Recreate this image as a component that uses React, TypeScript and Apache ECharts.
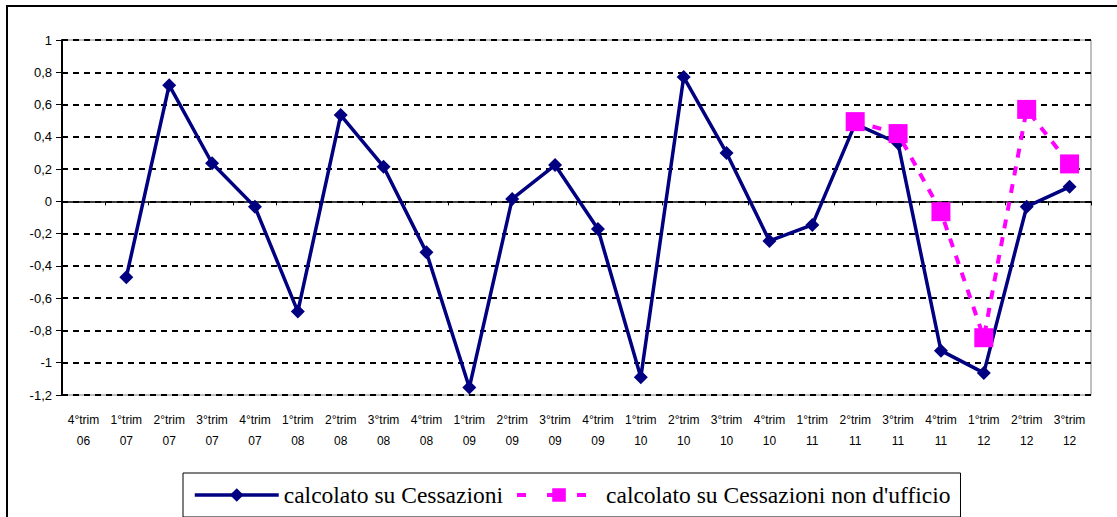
import React, { useEffect, useRef } from "react";
import * as echarts from "echarts";

const categories = [
  "4°trim\n06", "1°trim\n07", "2°trim\n07", "3°trim\n07", "4°trim\n07",
  "1°trim\n08", "2°trim\n08", "3°trim\n08", "4°trim\n08",
  "1°trim\n09", "2°trim\n09", "3°trim\n09", "4°trim\n09",
  "1°trim\n10", "2°trim\n10", "3°trim\n10", "4°trim\n10",
  "1°trim\n11", "2°trim\n11", "3°trim\n11", "4°trim\n11",
  "1°trim\n12", "2°trim\n12", "3°trim\n12",
];

const seriesCessazioni = [
  null, -0.47, 0.72, 0.236, -0.034, -0.683, 0.535, 0.215, -0.316,
  -1.154, 0.015, 0.225, -0.171, -1.09, 0.77, 0.3, -0.245,
  -0.146, 0.48, 0.36, -0.925, -1.063, -0.033, 0.09,
];

const seriesNonUfficio = [
  null, null, null, null, null, null, null, null, null,
  null, null, null, null, null, null, null, null,
  null, 0.494, 0.42, -0.064, -0.845, 0.57, 0.232,
];

const seriesNames = ["calcolato su Cessazioni", "calcolato su Cessazioni non d'ufficio"];

export default function App() {
  const ref = useRef<HTMLDivElement>(null);
  useEffect(() => {
    if (!ref.current) return;
    const chart = echarts.init(ref.current, null, { renderer: "svg" });
    const fmt = (v: number) => String(Math.round(v * 10) / 10).replace(".", ",");
    chart.setOption({
      animation: false,
      backgroundColor: "#ffffff",
      grid: {
        left: 62,
        top: 40,
        width: 1029,
        height: 355,
        show: true,
        borderColor: "#808080",
        borderWidth: 1,
        backgroundColor: "transparent",
      },
      graphic: [
        {
          type: "rect",
          shape: { x: 7, y: 6, width: 1300, height: 700 },
          style: { fill: "none", stroke: "#000", lineWidth: 2 },
          z: 100,
          silent: true,
        },
      ],
      legend: {
        left: 183,
        top: 473,
        padding: [10, 10, 10, 10],
        borderColor: "#000",
        borderWidth: 1,
        backgroundColor: "#fff",
        itemWidth: 84,
        itemHeight: 17,
        itemGap: 12,
        textStyle: {
          fontFamily: "Liberation Serif",
          fontSize: 23.5,
          lineHeight: 24,
          color: "#000",
        },
        data: [
          { name: seriesNames[0], lineStyle: { width: 3.5, color: "#000080" } },
          { name: seriesNames[1], lineStyle: { width: 4, color: "#ff00ff", type: [9, 21] } },
        ],
      },
      xAxis: [
        {
          type: "category",
          data: categories,
          position: "bottom",
          boundaryGap: true,
          axisLine: { show: false, onZero: false },
          axisTick: { show: false },
          splitLine: { show: false },
          axisLabel: {
            interval: 0,
            margin: 14,
            fontFamily: "Liberation Sans",
            fontSize: 12,
            lineHeight: 21,
            color: "#000",
          },
        },
        {
          type: "category",
          data: categories,
          position: "top",
          boundaryGap: true,
          axisLine: { show: true, onZero: true, lineStyle: { color: "#000", width: 1.5 } },
          axisTick: { show: true, inside: true, length: 4, interval: 0, lineStyle: { color: "#000", width: 1 } },
          axisLabel: { show: false },
          splitLine: { show: false },
        },
      ],
      yAxis: {
        type: "value",
        min: -1.2,
        max: 1,
        interval: 0.2,
        axisLine: { show: true, onZero: false, lineStyle: { color: "#000", width: 2 } },
        axisTick: { show: true, length: 6, lineStyle: { color: "#000", width: 1 } },
        axisLabel: {
          margin: 10,
          fontFamily: "Liberation Sans",
          fontSize: 13,
          color: "#000",
          formatter: fmt,
        },
        splitLine: {
          show: true,
          lineStyle: { color: "#000", width: 2, type: [6, 5] },
        },
      },
      series: [
        {
          name: seriesNames[0],
          type: "line",
          data: seriesCessazioni,
          xAxisIndex: 0,
          symbol: "diamond",
          symbolSize: 14,
          showAllSymbol: true,
          connectNulls: false,
          lineStyle: { color: "#000080", width: 3.5 },
          itemStyle: { color: "#000080" },
          z: 3,
        },
        {
          name: seriesNames[1],
          type: "line",
          data: seriesNonUfficio,
          xAxisIndex: 0,
          symbol: "rect",
          symbolSize: 19,
          showAllSymbol: true,
          lineStyle: { color: "#ff00ff", width: 4, type: [9, 9] },
          itemStyle: { color: "#ff00ff" },
          z: 4,
        },
      ],
    });
    return () => chart.dispose();
  }, []);
  return (
    <div
      ref={ref}
      style={{ position: "absolute", left: 0, top: 0, width: 1117, height: 517, background: "#fff" }}
    />
  );
}
